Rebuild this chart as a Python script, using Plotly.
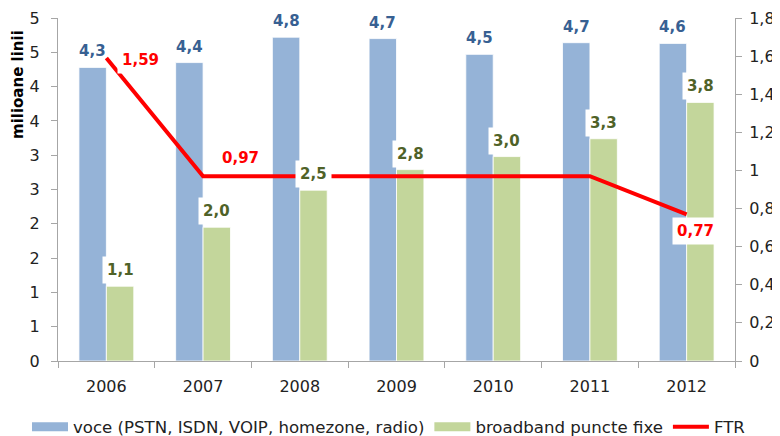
import plotly.graph_objects as go

# ---- data ----
years = ["2006", "2007", "2008", "2009", "2010", "2011", "2012"]
voce = [4.28, 4.35, 4.72, 4.70, 4.47, 4.64, 4.63]
voce_labels = ["4,3", "4,4", "4,8", "4,7", "4,5", "4,7", "4,6"]
broadband = [1.09, 1.95, 2.49, 2.79, 2.98, 3.24, 3.77]
broadband_labels = ["1,1", "2,0", "2,5", "2,8", "3,0", "3,3", "3,8"]
ftr = [1.59, 0.97, 0.97, 0.97, 0.97, 0.97, 0.77]
ftr_labels = ["1,59", "0,97", None, None, None, None, "0,77"]
left_tickvals = [0, 0.5, 1, 1.5, 2, 2.5, 3, 3.5, 4, 4.5, 5]
left_ticktext = ["0", "1", "1", "2", "2", "3", "3", "4", "4", "5", "5"]
right_tickvals = [0, 0.2, 0.4, 0.6, 0.8, 1.0, 1.2, 1.4, 1.6, 1.8]
right_ticktext = ["0", "0,2", "0,4", "0,6", "0,8", "1", "1,2", "1,4", "1,6", "1,8"]

name_voce = "voce (PSTN, ISDN, VOIP, homezone, radio)"
name_bb = "broadband puncte fixe"
name_ftr = "FTR"

# ---- styles ----
C_VOCE = "#95B3D7"
C_BB = "#C3D69B"
C_FTR = "#FF0000"
C_VOCE_TXT = "#376092"
C_BB_TXT = "#4F6228"
AX = "#A6A6A6"
FONT = "DejaVu Sans"

# the page body adds an 8px offset, so the figure is 8px smaller than the window
W, H = 772, 428
L, R, T, B = 50, 45, 10, 75
PW, PH = W - L - R, H - T - B
BARGAP = 0.433
cat_w = PW / len(years)
bar_off = cat_w * (1 - BARGAP) / 4

fig = go.Figure()
fig.add_trace(go.Bar(x=years, y=voce, name=name_voce, marker=dict(color=C_VOCE, line=dict(color="white", width=0.8)),
                     showlegend=False, hoverinfo="skip"))
fig.add_trace(go.Bar(x=years, y=broadband, name=name_bb, marker=dict(color=C_BB, line=dict(color="white", width=0.8)),
                     showlegend=False, hoverinfo="skip"))
fig.add_trace(go.Scatter(x=years, y=ftr, name=name_ftr, mode="lines", yaxis="y2",
                         line=dict(color=C_FTR, width=4), showlegend=False, hoverinfo="skip"))

# legend-only entries (wide rectangles like the original)
for nm, col, w in [(name_voce, C_VOCE, 9), (name_bb, C_BB, 9), (name_ftr, C_FTR, 4)]:
    fig.add_trace(go.Scatter(x=years, y=[None] * len(years), mode="lines", name=nm,
                             line=dict(color=col, width=w), showlegend=True, hoverinfo="skip"))

LBL = 15
ann = []
for i, (v, t) in enumerate(zip(voce, voce_labels)):
    ann.append(dict(x=i, y=v, xref="x", yref="y", text="<b>%s</b>" % t, showarrow=False,
                    xshift=-bar_off, yshift=16, yanchor="middle",
                    font=dict(family=FONT, size=LBL, color=C_VOCE_TXT)))
for i, (v, t) in enumerate(zip(broadband, broadband_labels)):
    ann.append(dict(x=i, y=v, xref="x", yref="y", text="<b>%s</b>" % t, showarrow=False,
                    xshift=bar_off, yshift=16, yanchor="middle", bgcolor="white", borderpad=4,
                    font=dict(family=FONT, size=LBL, color=C_BB_TXT)))
ftr_offsets = {"2006": (34, -2), "2007": (37, 18), "2012": (9, -17)}
for i, (yr, v, t) in enumerate(zip(years, ftr, ftr_labels)):
    if t is None:
        continue
    dx, dy = ftr_offsets.get(yr, (0, 15))
    ann.append(dict(x=i, y=v, xref="x", yref="y2", text="<b>%s</b>" % t, showarrow=False,
                    xshift=dx, yshift=dy, yanchor="middle", bgcolor="white", borderpad=4,
                    font=dict(family=FONT, size=LBL, color=C_FTR)))
ann.append(dict(xref="paper", yref="paper", x=(10 - L) / PW, y=1 - (77 - T) / PH,
                xanchor="center", yanchor="middle", text="<b>milioane linii</b>", showarrow=False,
                textangle=-90, font=dict(family=FONT, size=15, color="black")))

tickfont = dict(family=FONT, size=16, color="#222")
fig.update_layout(
    width=W, height=H,
    margin=dict(l=L, r=R, t=T, b=B, autoexpand=False),
    paper_bgcolor="white", plot_bgcolor="white",
    barmode="group", bargap=BARGAP, bargroupgap=0,
    separators=",.",
    font=dict(family=FONT, size=16, color="black"),
    xaxis=dict(type="category", categoryorder="array", categoryarray=years, range=[-0.5, len(years) - 0.5],
               showline=True, linecolor=AX, linewidth=1, ticks="outside", ticklen=6, tickcolor=AX,
               tickson="boundaries", showgrid=False, ticklabelstandoff=11, tickangle=0,
               automargin=False, tickfont=tickfont),
    yaxis=dict(range=[0, 5], tickvals=left_tickvals, ticktext=left_ticktext, showline=True,
               linecolor=AX, linewidth=1, ticks="outside", ticklen=6, tickcolor=AX, showgrid=False,
               zeroline=False, ticklabelstandoff=8, automargin=False, tickfont=tickfont),
    yaxis2=dict(range=[0, 1.8], tickvals=right_tickvals, ticktext=right_ticktext, overlaying="y",
                side="right", showline=True, linecolor=AX, linewidth=1, ticks="outside", ticklen=6,
                tickcolor=AX, showgrid=False, zeroline=False, ticklabelstandoff=4, automargin=False,
                tickfont=tickfont),
    legend=dict(orientation="h", x=(19 - L) / PW, xanchor="left",
                y=-(419 - (H - B)) / PH, yanchor="middle", font=dict(family=FONT, size=16.6, color="#222"),
                itemwidth=36, tracegroupgap=0, bgcolor="rgba(0,0,0,0)"),
    annotations=ann,
    showlegend=True,
)

fig.write_html("out.html")
